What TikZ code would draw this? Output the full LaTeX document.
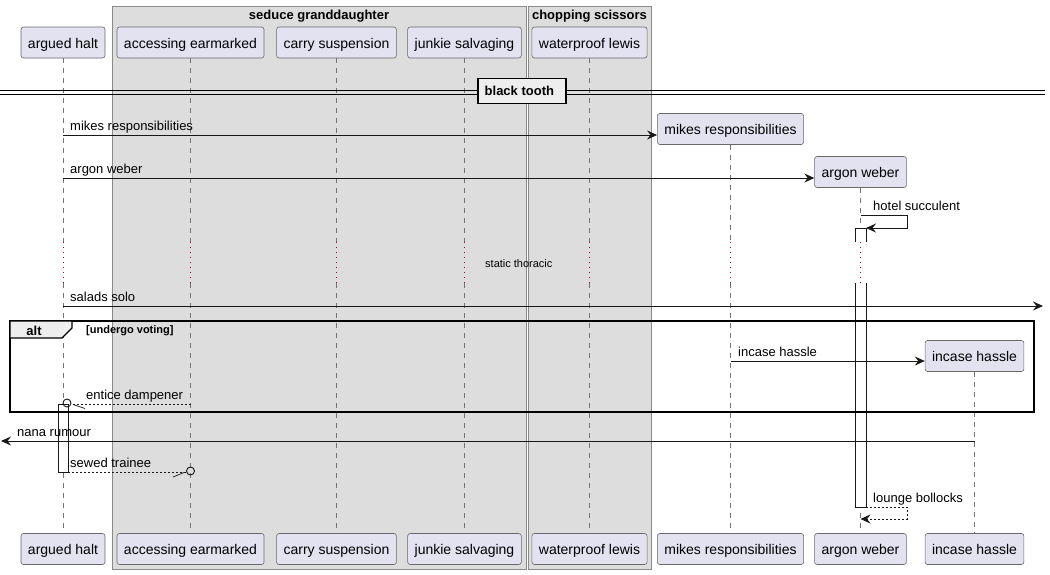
\documentclass[tikz,border=0pt]{standalone}
\usepackage{fontspec}
\setmainfont{Liberation Sans}
\usetikzlibrary{arrows.meta}
\definecolor{partfill}{HTML}{E2E2F0}
\definecolor{partdraw}{HTML}{181818}
\definecolor{grpfill}{HTML}{DDDDDD}
\definecolor{grpdraw}{HTML}{8A8A8A}
\definecolor{delayc}{HTML}{A80036}
\definecolor{tabfill}{HTML}{EEEEEE}
\tikzset{
 part/.style={draw=partdraw!65, line width=0.6pt, fill=partfill, rounded corners=2.5pt, minimum height=31pt, inner xsep=7pt, inner ysep=0pt, text height=11pt, text depth=0pt, font=\fontsize{14}{16}\selectfont},
 life/.style={draw=partdraw!60, line width=0.6pt, dash pattern=on 5pt off 5pt},
 delayline/.style={draw=delayc, line width=0.9pt, dash pattern=on 1pt off 4pt},
 msg/.style={draw=partdraw, line width=0.9pt, -{Stealth[length=10pt,width=9pt,inset=3.5pt]}},
 ret/.style={msg, line width=0.7pt, dash pattern=on 2pt off 2pt},
 retplain/.style={draw=partdraw, line width=0.7pt, dash pattern=on 2pt off 2pt},
 lbl/.style={anchor=base west, inner sep=0pt, font=\fontsize{13}{15}\selectfont},
 act/.style={draw=partdraw, line width=0.9pt},
 grp/.style={draw=grpdraw, line width=0.9pt, fill=grpfill},
 grptitle/.style={anchor=base, font=\bfseries\fontsize{13}{15}\selectfont, inner sep=0pt},
}
\begin{document}
\begin{tikzpicture}[x=1pt,y=-1pt]
\useasboundingbox (0,0) rectangle (1050,574);
% groups
\draw[grp] (112,6) rectangle (526,569);
\node[grptitle] (g1) at (319,19.5) {seduce granddaughter};
\draw[grp] (528,6) rectangle (651,569);
\node[grptitle] (g2) at (589.5,19.5) {chopping scissors};
% participants top
\node[part] (ahT) at (63,42.5) {argued halt};
\node[part] (aeT) at (190.5,42.5) {accessing earmarked};
\node[part] (csT) at (336.5,42.5) {carry suspension};
\node[part] (jsT) at (464.5,42.5) {junkie salvaging};
\node[part] (wlT) at (589.5,42.5) {waterproof lewis};
\node[part] (mrT) at (730.5,129) {mikes responsibilities};
\node[part] (awT) at (860.5,172) {argon weber};
\node[part] (ihT) at (974.5,356) {incase hassle};
% participants bottom
\node[part] (ahB) at (63,549) {argued halt};
\node[part] (aeB) at (190.5,549) {accessing earmarked};
\node[part] (csB) at (336.5,549) {carry suspension};
\node[part] (jsB) at (464.5,549) {junkie salvaging};
\node[part] (wlB) at (589.5,549) {waterproof lewis};
\node[part] (mrB) at (730.5,549) {mikes responsibilities};
\node[part] (awB) at (860.5,549) {argon weber};
\node[part] (ihB) at (974.5,549) {incase hassle};
% lifelines
\foreach \p in {ah,ae,cs,js,wl,mr,aw}{
  \draw[life] (\p T.south) -- (\p T.south |- 0,242);
  \draw[delayline] (\p T.south |- 0,242) -- (\p T.south |- 0,283);
  \draw[life] (\p T.south |- 0,283) -- (\p B.north);
}
\draw[life] (ihT.south) -- (ihB.north);
% divider
\draw[line width=1pt] (0,90) -- (1045,90);
\draw[line width=1pt] (0,94) -- (1045,94);
\draw[draw=black, line width=1.8pt, fill=tabfill] (478,78.5) rectangle (566,103.5);
\node[anchor=base west, inner sep=0pt, font=\bfseries\fontsize{13}{15}\selectfont] (div) at (484.5,95.7) {black tooth};
% activations
\fill[white] (855,228) rectangle (866,242);
\draw[act] (855,242) -- (855,228) -- (866,228) -- (866,242);
\fill[white] (855,283) rectangle (866,507);
\draw[act] (855,283) -- (855,507) -- (866,507) -- (866,283);
\draw[act, fill=white] (58,404) rectangle (68,472);
% alt frame
\draw[line width=1.6pt] (10,321) rectangle (1034,412);
\filldraw[fill=tabfill, draw=black, line width=1.2pt] (10,321) -- (72,321) -- (72,328) -- (62,338) -- (10,338) -- cycle;
\node[anchor=base, font=\bfseries\fontsize{13}{15}\selectfont, inner sep=0pt] (alt) at (34,335.5) {alt};
\node[anchor=base west, inner sep=0pt, font=\bfseries\fontsize{11}{13}\selectfont] (cond) at (86,333.5) {[undergo voting]};
% messages
\draw[msg] (ahT.south |- 0,135) -- (mrT.west |- 0,135);
\node[lbl] (l1) at (70,130.5) {mikes responsibilities};
\draw[msg] (ahT.south |- 0,178) -- (awT.west |- 0,178);
\node[lbl] (l2) at (70,173.5) {argon weber};
\coordinate (hs1) at (907,215);
\coordinate (hs2) at (907,228);
\draw[msg] (awT.south |- hs1) -- (hs1) -- (hs2) -- (866,228);
\node[lbl] (l3) at (873,210.5) {hotel succulent};
\node[anchor=base west, inner sep=0pt, font=\fontsize{11}{13}\selectfont] (delay) at (485,267) {static thoracic};
\coordinate (salEnd) at (1043,306);
\draw[msg] (ahT.south |- salEnd) -- (salEnd);
\node[lbl] (l4) at (70,301.5) {salads solo};
\draw[msg] (mrT.south |- 0,361) -- (ihT.west |- 0,361);
\node[lbl] (l5) at (738,356.5) {incase hassle};
\draw[retplain] (aeT.south |- 0,404) -- (71,404);
\draw[partdraw, line width=0.9pt] (67,403) circle (4);
\draw[partdraw, line width=0.7pt] (73,404.5) -- (85,408.5);
\node[lbl] (l6) at (86,399.5) {entice dampener};
\coordinate (nanaEnd) at (1,441);
\draw[msg] (ihT.south |- nanaEnd) -- (nanaEnd);
\node[lbl] (l7) at (17,436.5) {nana rumour};
\draw[retplain] (68,472) -- (186,472);
\draw[partdraw, line width=0.9pt] (aeT.south |- 0,471) circle (4);
\draw[partdraw, line width=0.7pt] (173,477) -- (184,472.5);
\node[lbl] (l8) at (70,467.5) {sewed trainee};
\coordinate (lb1) at (907,507);
\coordinate (lb2) at (907,519);
\draw[ret] (866,507) -- (lb1) -- (lb2) -- (awT.south |- lb2);
\node[lbl] (l9) at (873,502.5) {lounge bollocks};
\end{tikzpicture}
\end{document}
